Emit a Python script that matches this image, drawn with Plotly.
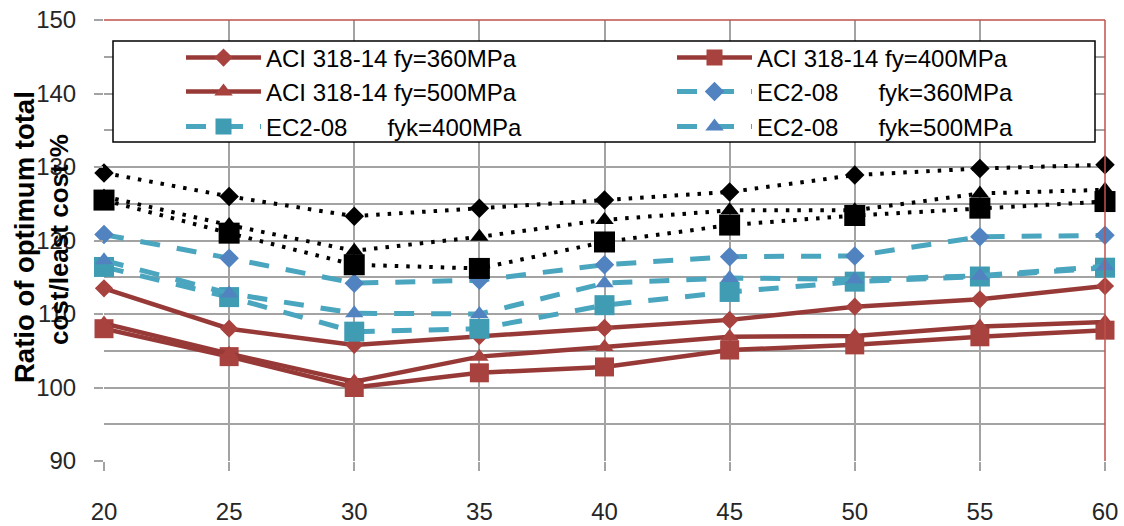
import plotly.graph_objects as go

# ---------------- data ----------------
x_vals = [20, 25, 30, 35, 40, 45, 50, 55, 60]

aci_360 = [113.5, 108.0, 105.8, 107.0, 108.1, 109.2, 111.0, 112.0, 113.8]
aci_400 = [108.0, 104.2, 100.0, 102.0, 102.8, 105.1, 105.8, 106.9, 107.8]
aci_500 = [108.7, 104.6, 100.8, 104.2, 105.5, 106.9, 107.0, 108.3, 108.9]

ec2_360 = [120.8, 117.6, 114.2, 114.6, 116.7, 117.8, 117.9, 120.5, 120.7]
ec2_400 = [116.4, 112.3, 107.6, 108.0, 111.2, 113.0, 114.4, 115.1, 116.3]
ec2_500 = [117.3, 112.8, 110.1, 110.0, 114.2, 114.9, 114.7, 115.2, 116.5]

blk_diamond = [129.2, 126.0, 123.3, 124.4, 125.5, 126.6, 128.9, 129.8, 130.3]
blk_triangle = [126.0, 122.1, 118.6, 120.5, 122.8, 124.1, 124.1, 126.4, 126.9]
blk_square = [125.5, 121.0, 116.7, 116.2, 119.8, 122.1, 123.4, 124.4, 125.3]

SP = "\u00a0"
names = [
    "ACI 318-14" + SP + "fy=360MPa",
    "ACI 318-14" + SP + "fy=400MPa",
    "ACI 318-14" + SP + "fy=500MPa",
    "EC2-08" + SP * 6 + "fyk=360MPa",
    "EC2-08" + SP * 6 + "fyk=400MPa",
    "EC2-08" + SP * 6 + "fyk=500MPa",
]
x_ticks = [20, 25, 30, 35, 40, 45, 50, 55, 60]
y_ticks = [90, 100, 110, 120, 130, 140, 150]

# ---------------- styles ----------------
RED_LINE = "#973a37"
RED_MK = "#a8423f"
TEAL = "#4aa5bf"
BLUE_MK = "#5083c0"
TEAL_MK = "#3f9cb3"
GRID = "#a3a3a3"
FONT = "Liberation Sans"

W, H = 1124, 526
L, R, T, B = 104, 19, 20, 65
pw, ph = W - L - R, H - T - B

def px_x(p):  # screen pixel -> paper x
    return (p - L) / pw

def px_y(p):  # screen pixel -> paper y
    return (H - B - p) / ph

fig = go.Figure()

def add(y, name, legend, lcolor, mcolor, symbol, size, dash, width):
    fig.add_trace(go.Scatter(
        x=x_vals, y=y, name=name, mode="lines+markers", legend=legend,
        line=dict(color=lcolor, width=width, dash=dash),
        marker=dict(symbol=symbol, size=size, color=mcolor, line=dict(width=0)),
        cliponaxis=False,
    ))

DASH = "20px,17px"
add(aci_360, names[0], "legend", RED_LINE, RED_MK, "diamond", 14, "solid", 4.5)
add(aci_400, names[1], "legend2", RED_LINE, RED_MK, "square", 19, "solid", 4.5)
add(aci_500, names[2], "legend3", RED_LINE, RED_MK, "triangle-up", 16, "solid", 4.5)
add(ec2_360, names[3], "legend4", TEAL, BLUE_MK, "diamond", 15, DASH, 5)
add(ec2_400, names[4], "legend5", TEAL, TEAL_MK, "square", 20, DASH, 5)
add(ec2_500, names[5], "legend6", TEAL, BLUE_MK, "triangle-up", 16, DASH, 5)

for y, sym, sz in [(blk_diamond, "diamond", 15), (blk_triangle, "triangle-up", 16), (blk_square, "square", 21)]:
    fig.add_trace(go.Scatter(
        x=x_vals, y=y, mode="lines+markers", showlegend=False,
        line=dict(color="black", width=4, dash="3.5px,8px"),
        marker=dict(symbol=sym, size=sz, color="black"),
        cliponaxis=False,
    ))

leg_common = dict(orientation="v", xanchor="left", yanchor="middle",
                  bgcolor="rgba(0,0,0,0)", borderwidth=0,
                  font=dict(family=FONT, size=24, color="black"),
                  itemwidth=75)

col1, col2 = 181, 672
row1, row2, row3 = 58, 92, 127

fig.update_layout(
    width=W, height=H,
    margin=dict(l=L, r=R, t=T, b=B, pad=0, autoexpand=False),
    paper_bgcolor="white", plot_bgcolor="white",
    font=dict(family=FONT, color="#262626"),
    legend=dict(x=px_x(col1), y=px_y(row1), **leg_common),
    legend2=dict(x=px_x(col2), y=px_y(row1), **leg_common),
    legend3=dict(x=px_x(col1), y=px_y(row2), **leg_common),
    legend4=dict(x=px_x(col2), y=px_y(row2), **leg_common),
    legend5=dict(x=px_x(col1), y=px_y(row3), **leg_common),
    legend6=dict(x=px_x(col2), y=px_y(row3), **leg_common),
    xaxis=dict(range=[20, 60], tickvals=x_ticks, ticktext=[str(v) for v in x_ticks],
               automargin=False, ticklabeloverflow="allow",
               showgrid=True, gridcolor=GRID, gridwidth=1.5, zeroline=False,
               showline=False, ticks="outside", ticklen=9, tickwidth=1.5, tickcolor=GRID,
               tickfont=dict(family=FONT, size=24, color="#262626"),
               ticklabelstandoff=20),
    yaxis=dict(range=[90, 150], tickvals=y_ticks, ticktext=[str(v) for v in y_ticks],
               automargin=False, ticklabeloverflow="allow",
               showgrid=True, gridcolor=GRID, gridwidth=1.5, zeroline=False,
               showline=False, ticks="outside", ticklen=9, tickwidth=1.5, tickcolor=GRID,
               tickfont=dict(family=FONT, size=24, color="#262626"),
               ticklabelstandoff=13,
               minor=dict(dtick=5, showgrid=True, gridcolor=GRID, gridwidth=1.5)),
    shapes=[
        dict(type="line", xref="paper", yref="paper", x0=0, x1=1, y0=1, y1=1,
             line=dict(color="#c0504d", width=1.5), layer="above"),
        dict(type="line", xref="paper", yref="paper", x0=1, x1=1, y0=0, y1=1,
             line=dict(color="#c0504d", width=1.5), layer="above"),
        dict(type="rect", xref="paper", yref="paper",
             x0=px_x(113), x1=px_x(1095), y0=px_y(142), y1=px_y(41),
             fillcolor="white", line=dict(color="black", width=1.5), layer="above"),
    ],
    annotations=[
        dict(text="<b>Ratio of optimum total</b>", textangle=-90, xref="paper", yref="paper",
             x=px_x(24), y=px_y(237), xanchor="center", yanchor="middle", showarrow=False,
             font=dict(family=FONT, size=27.5, color="black")),
        dict(text="<b>cost/least cost %</b>", textangle=-90, xref="paper", yref="paper",
             x=px_x(59), y=px_y(240), xanchor="center", yanchor="middle", showarrow=False,
             font=dict(family=FONT, size=26, color="black")),
    ],
)

fig.write_html("out.html",
               config={"displayModeBar": False},
               post_script="document.body.style.margin='0';document.body.style.overflow='hidden';")
